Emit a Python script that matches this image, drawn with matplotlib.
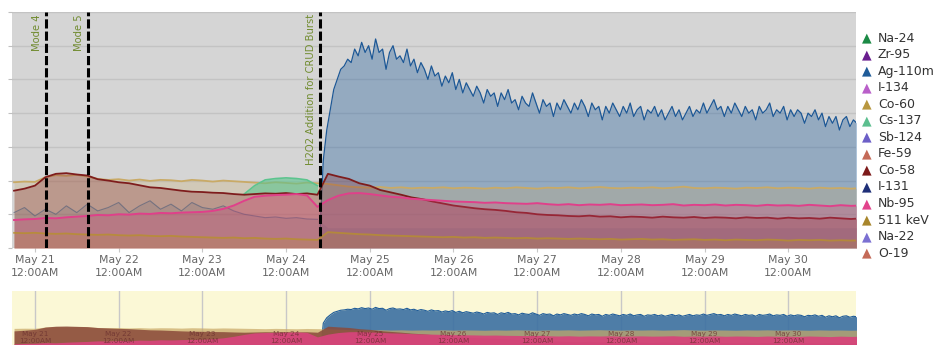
import numpy as np
import pandas as pd
import matplotlib
matplotlib.use("Agg")
import matplotlib.pyplot as plt
import matplotlib.transforms as mtransforms

# ---- data (y in grid units) ----
t_grid = pd.date_range("2015-05-20 18:00", periods=82, freq="3h")
t_blue = pd.date_range("2015-05-24 09:40", periods=155, freq="1h")

ag110m = [0.3, 2.6, 3.5, 4.1, 4.7, 5.0, 5.3, 5.4, 5.6, 5.5,
          5.9, 5.7, 6.1, 5.8, 6.0, 5.6, 6.2, 5.8, 5.9, 5.3,
          5.8, 6.0, 5.6, 5.7, 5.5, 5.9, 5.4, 5.6, 5.2, 5.5,
          5.3, 5.0, 5.4, 5.1, 5.2, 4.8, 5.1, 4.9, 5.2, 4.7,
          5.0, 4.6, 4.9, 4.7, 4.5, 4.8, 4.6, 4.3, 4.7, 4.5,
          4.6, 4.2, 4.6, 4.4, 4.7, 4.3, 4.4, 4.1, 4.5, 4.3,
          4.2, 4.6, 4.3, 4.0, 4.4, 4.2, 4.3, 3.9, 4.3, 4.1,
          4.4, 4.2, 4.0, 4.3, 4.1, 4.4, 4.2, 3.9, 4.3, 4.1,
          4.2, 3.8, 4.2, 4.0, 4.3, 4.1, 3.9, 4.2, 4.0, 4.3,
          3.9, 4.1, 4.2, 3.8, 4.1, 4.0, 4.2, 3.9, 4.1, 3.8,
          4.0, 4.2, 3.9, 4.1, 3.8, 4.0, 4.2, 3.9, 4.1, 4.0,
          4.3, 4.0, 4.2, 4.4, 4.1, 4.2, 3.9, 4.2, 4.0, 4.3,
          4.1, 3.9, 4.2, 4.0, 4.1, 3.8, 4.2, 4.0, 4.1, 4.3,
          3.9, 4.1, 4.0, 4.2, 3.8, 4.1, 3.9, 4.1, 4.0, 3.7,
          4.0, 3.9, 4.1, 3.8, 4.0, 3.6, 3.9, 3.7, 3.9, 3.5,
          3.8, 3.9, 3.6, 3.8, 3.7]

co60 = [1.95, 1.97, 1.96, 2.10, 2.16, 2.14, 2.17, 2.12, 2.05, 2.02,
        2.04, 2.00, 2.03, 1.99, 2.02, 2.01, 1.98, 2.02, 2.00, 1.97,
        2.00, 1.98, 1.96, 1.94, 1.92, 1.95, 1.93, 1.91, 1.94, 1.92,
        1.90, 1.86, 1.82, 1.80, 1.79, 1.81, 1.78, 1.80, 1.77, 1.79,
        1.78, 1.80, 1.77, 1.79, 1.78, 1.76, 1.79, 1.77, 1.80, 1.78,
        1.76, 1.79, 1.78, 1.80, 1.77, 1.79, 1.81, 1.78, 1.77, 1.79,
        1.78, 1.80, 1.77, 1.79, 1.82, 1.78, 1.77, 1.79, 1.78, 1.76,
        1.79, 1.78, 1.80, 1.77, 1.79, 1.78, 1.76, 1.79, 1.77, 1.78,
        1.76, 1.78]

co58 = [1.70, 1.76, 1.85, 2.10, 2.20, 2.22, 2.18, 2.15, 2.04, 2.00,
        1.95, 1.92, 1.86, 1.80, 1.78, 1.74, 1.70, 1.67, 1.66, 1.64,
        1.63, 1.60, 1.58, 1.60, 1.62, 1.61, 1.63, 1.60, 1.62, 1.58,
        2.20, 2.12, 2.05, 1.92, 1.85, 1.72, 1.65, 1.58, 1.50, 1.45,
        1.38, 1.32, 1.26, 1.22, 1.18, 1.15, 1.13, 1.10, 1.06, 1.04,
        1.00, 0.98, 0.97, 0.95, 0.94, 0.96, 0.93, 0.94, 0.91, 0.93,
        0.92, 0.90, 0.93, 0.91, 0.90, 0.92, 0.89, 0.91, 0.90, 0.88,
        0.91, 0.89, 0.90, 0.87, 0.90, 0.88, 0.89, 0.87, 0.90, 0.88,
        0.86, 0.88]

nb95 = [0.83, 0.85, 0.86, 0.89, 0.88, 0.91, 0.93, 0.95, 0.98, 0.97,
        1.00, 0.99, 1.02, 1.01, 1.04, 1.03, 1.05, 1.06, 1.07, 1.10,
        1.16, 1.26, 1.40, 1.52, 1.55, 1.57, 1.58, 1.60, 1.56, 1.22,
        1.42, 1.55, 1.62, 1.63, 1.60, 1.56, 1.52, 1.50, 1.46, 1.44,
        1.42, 1.40, 1.38, 1.37, 1.36, 1.34, 1.35, 1.33, 1.32, 1.31,
        1.33, 1.30, 1.28, 1.30, 1.27, 1.29, 1.28, 1.30, 1.27, 1.28,
        1.29, 1.27, 1.28, 1.30, 1.26, 1.28, 1.27, 1.29, 1.26, 1.28,
        1.27, 1.25, 1.28, 1.26, 1.27, 1.25, 1.28, 1.26, 1.24, 1.27,
        1.25, 1.26]

i131 = [1.05, 1.20, 0.95, 1.15, 1.00, 1.25, 1.05, 1.30, 1.10, 1.20,
        1.35, 1.05, 1.25, 1.40, 1.15, 1.30, 1.10, 1.35, 1.20, 1.15,
        1.25, 1.10, 1.00, 0.95, 0.90, 0.92, 0.88, 0.90, 0.86, 0.85,
        0.60, 0.60, 0.60, 0.60, 0.60, 0.60, 0.60, 0.60, 0.60, 0.60,
        0.60, 0.60, 0.60, 0.60, 0.60, 0.60, 0.60, 0.60, 0.60, 0.60,
        0.60, 0.60, 0.60, 0.60, 0.60, 0.60, 0.60, 0.60, 0.60, 0.60,
        0.60, 0.60, 0.60, 0.60, 0.60, 0.60, 0.60, 0.60, 0.60, 0.60,
        0.60, 0.60, 0.60, 0.60, 0.60, 0.60, 0.60, 0.60, 0.60, 0.60,
        0.60, 0.60]

cs137 = [np.nan] * 22 + [1.60, 1.85, 2.02, 2.06, 2.08, 2.06, 2.02, 1.85] + [np.nan] * 52

kev511 = [0.45, 0.44, 0.45, 0.43, 0.42, 0.43, 0.41, 0.40, 0.39, 0.40,
          0.38, 0.37, 0.38, 0.36, 0.35, 0.36, 0.34, 0.33, 0.32, 0.31,
          0.30, 0.31, 0.29, 0.30, 0.28, 0.27, 0.28, 0.26, 0.25, 0.24,
          0.47, 0.45, 0.43, 0.41, 0.40, 0.38, 0.37, 0.36, 0.35, 0.34,
          0.33, 0.32, 0.33, 0.31, 0.32, 0.30, 0.31, 0.30, 0.29, 0.30,
          0.28, 0.29, 0.28, 0.27, 0.28, 0.27, 0.26, 0.27, 0.25, 0.26,
          0.27, 0.25, 0.26, 0.24, 0.25, 0.26, 0.24, 0.25, 0.23, 0.25,
          0.24, 0.23, 0.25, 0.24, 0.22, 0.24, 0.23, 0.24, 0.22, 0.23,
          0.22, 0.23]

event_times = pd.to_datetime(["2015-05-21 03:10", "2015-05-21 15:15", "2015-05-24 09:40"])
event_labels = ["Mode 4", "Mode 5", "H2O2 Addition for CRUD Burst"]

tick_times = pd.date_range("2015-05-21", "2015-05-30", freq="D")
tick_labels = [f"May {d}\n12:00AM" for d in range(21, 31)]
nav_labels = [f"May {d}\n12:00AM" for d in range(21, 31)]

legend_names = ["Na-24", "Zr-95", "Ag-110m", "I-134", "Co-60", "Cs-137", "Sb-124",
                "Fe-59", "Co-58", "I-131", "Nb-95", "511 keV", "Na-22", "O-19"]
legend_colors = ["#1b8a45", "#6a1f8f", "#1f5c99", "#b95fc9", "#b8973f", "#5cbf8f", "#6c5fc7",
                 "#c46a58", "#7d1a1a", "#1f2f78", "#e2448c", "#a8862c", "#7b70d2", "#c46a58"]

x_min = pd.Timestamp("2015-05-20 17:25")
x_max = pd.Timestamp("2015-05-30 19:25")

W, H = 936, 345
fig = plt.figure(figsize=(W / 100, H / 100), dpi=100)
plt.rcParams['font.family'] = ['DejaVu Sans']

# ---- main chart ----
ax = fig.add_axes([12 / W, 1 - 248 / H, 844 / W, 236 / H])
ax.set_facecolor("#d5d5d5")
for s in ax.spines.values():
    s.set_visible(False)

ax.fill_between(t_blue, 0, ag110m, color="#2a64a0", alpha=0.38, lw=0, zorder=2)
ax.plot(t_blue, ag110m, color="#1d5896", lw=0.9, zorder=3)

ax.fill_between(t_grid, 0, co60, color="#c9a865", alpha=0.25, lw=0, zorder=4)
ax.plot(t_grid, co60, color="#c9aa66", lw=1.3, zorder=5)

cs = np.array(cs137, dtype=float)
ax.fill_between(t_grid, co58, cs, where=~np.isnan(cs), color="#5cc48e", alpha=0.6, lw=0, zorder=6)
ax.plot(t_grid, cs, color="#5cc48e", lw=1.2, zorder=6)

ax.fill_between(t_grid, 0, co58, color="#8b2a2a", alpha=0.3, lw=0, zorder=7)
ax.plot(t_grid, co58, color="#7e1c1c", lw=1.3, zorder=8)

ax.fill_between(t_grid, 0, i131, color="#3a4a6a", alpha=0.12, lw=0, zorder=9)
ax.plot(t_grid[:30], i131[:30], color="#4a5a78", lw=0.8, alpha=0.6, zorder=9)

ax.fill_between(t_grid, 0, nb95, color="#d8407a", alpha=0.28, lw=0, zorder=10)
ax.plot(t_grid, nb95, color="#e0408a", lw=1.4, zorder=11)

ax.fill_between(t_grid, 0, kev511, color="#b8902c", alpha=0.2, lw=0, zorder=12)
ax.plot(t_grid, kev511, color="#b8902c", lw=1.3, alpha=0.8, zorder=12)

ax.set_xlim(x_min, x_max)
ax.set_ylim(0, 7)
ax.set_yticks(range(0, 8))
ax.set_yticklabels([])
ax.grid(axis="y", color="#c3c3c3", lw=1, zorder=1)
ax.set_axisbelow(True)
ax.tick_params(axis="y", length=3, color="#c0c0c0", direction="out")
ax.set_xticks(tick_times)
ax.set_xticklabels(tick_labels, fontsize=7.8, color="#666666", linespacing=1.35)
ax.tick_params(axis="x", length=3, color="#c8c8c8", pad=2)

for et, lab in zip(event_times, event_labels):
    ax.axvline(et, color="black", lw=2.2, dashes=(3.0, 1.0), zorder=20)
    trans = mtransforms.offset_copy(ax.get_xaxis_transform(), fig=fig, x=-4, y=0, units="dots")
    ax.text(et, 0.99, lab, transform=trans, rotation=90, ha="right", va="top",
            fontsize=7.2, color="#718c30", zorder=21)

# ---- legend ----
for k, (name, col) in enumerate(zip(legend_names, legend_colors)):
    yc = 1 - (38 + k * 16.55) / H
    fig.text(867 / W, yc, "\u25b2", color=col, fontsize=9, ha="center", va="center")
    fig.text(878 / W, yc, name, color="#333333", fontsize=9, ha="left", va="center")

# ---- navigator ----
nav = fig.add_axes([12 / W, 0, 844 / W, 54 / H])
nav.set_facecolor("#fbf8d6")
for s in nav.spines.values():
    s.set_visible(False)
nav.set_yscale("log")
for tt in tick_times:
    nav.axvline(tt, color="#c8c8c8", lw=1, zorder=1)
nav.fill_between(t_blue, 0.5, ag110m, color="#3b70a2", alpha=0.9, lw=0, zorder=2)
nav.plot(t_blue, ag110m, color="#1f5c99", lw=0.8, zorder=3)
nav.fill_between(t_grid, 0.5, co60, color="#c9a865", alpha=0.7, lw=0, zorder=4)
nav.fill_between(t_grid, 0.5, co58, color="#8a4a3a", alpha=0.85, lw=0, zorder=5)
nav.fill_between(t_grid, 0.5, nb95, color="#d6457a", alpha=0.95, lw=0, zorder=6)
nav.set_xlim(x_min, x_max)
nav.set_ylim(0.78, 15.3)
nav.set_xticks([])
nav.set_yticks([])
nav.yaxis.set_minor_locator(matplotlib.ticker.NullLocator())
ntrans = mtransforms.blended_transform_factory(nav.transData, nav.transAxes)
for tt, lab in zip(tick_times, nav_labels):
    nav.text(tt, 0.02, lab, transform=ntrans, ha="center", va="bottom", fontsize=5.2,
             color="#6a2f2f", alpha=0.75, linespacing=1.1, zorder=8)

fig.savefig("out.png", dpi=100)
